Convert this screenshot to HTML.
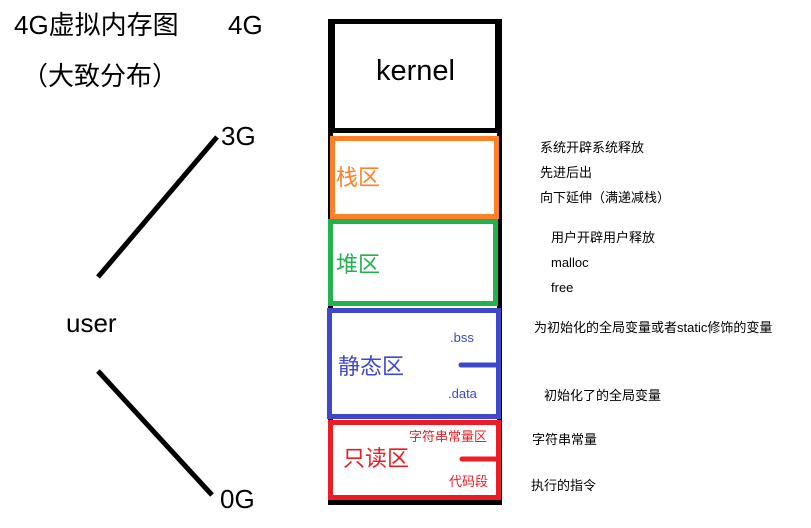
<!DOCTYPE html>
<html><head><meta charset="utf-8"><style>
body{margin:0;width:811px;height:528px;background:#fff;position:relative;overflow:hidden;font-family:"Liberation Sans","Noto Sans CJK SC",sans-serif}
.a{position:absolute;white-space:nowrap;line-height:1}
.b{position:absolute;box-sizing:border-box}
.s{font-size:13px;color:#000}
</style></head><body>
<div class="a" style="left:14px;top:12px;font-size:26px">4G虚拟内存图</div>
<div class="a" style="left:228px;top:12px;font-size:26px">4G</div>
<div class="a" style="left:22px;top:63px;font-size:26px">（大致分布）</div>
<div class="a" style="left:221px;top:123px;font-size:26px">3G</div>
<div class="a" style="left:220px;top:486px;font-size:26px">0G</div>
<div class="a" style="left:66px;top:310px;font-size:26px">user</div>
<svg class="b" style="left:0;top:0" width="811" height="528">
<line x1="98" y1="277" x2="217" y2="137" stroke="#000" stroke-width="5"/>
<line x1="98" y1="371" x2="212" y2="495" stroke="#000" stroke-width="5"/>
</svg>
<div class="b" style="left:328px;top:19px;width:174px;height:486px;border:5px solid #000"></div>
<div class="b" style="left:330px;top:19px;width:170px;height:114px;border:5px solid #000;background:#fff"></div>
<div class="a" style="left:376px;top:57px;font-size:29px">kernel</div>
<div class="b" style="left:330px;top:136px;width:169px;height:83px;border:5px solid #ff7f27;background:#fff"></div>
<div class="a" style="left:336px;top:167px;font-size:22px;color:#ff7f27">栈区</div>
<div class="b" style="left:328px;top:219px;width:170px;height:87px;border:5px solid #22b14c;background:#fff"></div>
<div class="a" style="left:336px;top:254px;font-size:22px;color:#22b14c">堆区</div>
<div class="b" style="left:327px;top:308px;width:174px;height:111px;border:5px solid #3f48cc;background:#fff"></div>
<div class="a" style="left:338px;top:356px;font-size:22px;color:#3f48cc">静态区</div>
<div class="a" style="left:450px;top:331px;font-size:13px;color:#3f48cc">.bss</div>
<div class="a" style="left:448px;top:387px;font-size:13px;color:#3f48cc">.data</div>
<svg class="b" style="left:0;top:0" width="811" height="528">
<line x1="461" y1="365" x2="497" y2="365" stroke="#3f48cc" stroke-width="5" stroke-linecap="round"/>
</svg>
<div class="b" style="left:328px;top:420px;width:173px;height:80px;border:5px solid #ed1c24;background:#fff"></div>
<div class="a" style="left:343px;top:448px;font-size:22px;color:#ed1c24">只读区</div>
<div class="a" style="left:409px;top:430px;font-size:13px;color:#ed1c24">字符串常量区</div>
<div class="a" style="left:449px;top:475px;font-size:13px;color:#ed1c24">代码段</div>
<svg class="b" style="left:0;top:0" width="811" height="528">
<line x1="462" y1="459" x2="497" y2="459" stroke="#ed1c24" stroke-width="5" stroke-linecap="round"/>
</svg>
<div class="a s" style="left:540px;top:141px">系统开辟系统释放</div>
<div class="a s" style="left:540px;top:166px">先进后出</div>
<div class="a s" style="left:540px;top:191px">向下延伸（满递减栈）</div>
<div class="a s" style="left:551px;top:231px">用户开辟用户释放</div>
<div class="a s" style="left:551px;top:256px">malloc</div>
<div class="a s" style="left:551px;top:281px">free</div>
<div class="a s" style="left:534px;top:321px">为初始化的全局变量或者static修饰的变量</div>
<div class="a s" style="left:544px;top:389px">初始化了的全局变量</div>
<div class="a s" style="left:532px;top:433px">字符串常量</div>
<div class="a s" style="left:531px;top:479px">执行的指令</div>
</body></html>
